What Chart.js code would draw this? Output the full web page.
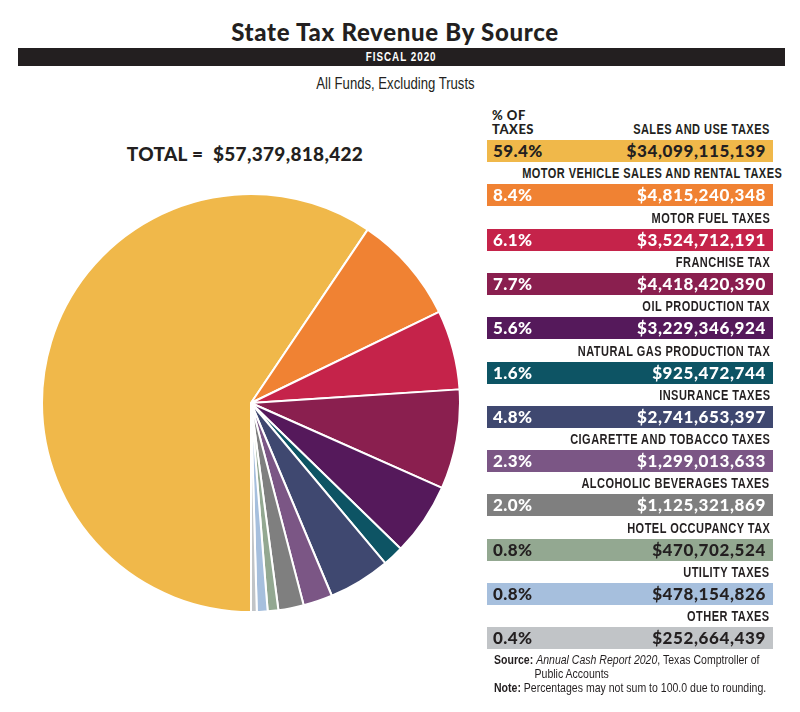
<!DOCTYPE html>
<html>
<head>
<meta charset="utf-8">
<script src="https://cdn.jsdelivr.net/npm/chart.js@4"></script>
<style>
  body { margin: 0; width: 800px; height: 712px; background: #fff; position: relative; overflow: hidden;
         font-family: "Liberation Sans", sans-serif; color: #231f20; }
  .abs { position: absolute; white-space: nowrap; }
  .sq { display: inline-block; transform: scaleX(0.82); }
  #title { left: 0; width: 790px; top: 17px; text-align: center; font: 900 24px Lato, sans-serif; letter-spacing: 0.7px; }
  #band { left: 18px; width: 767px; top: 48px; height: 18px; background: #231f20; color: #fff; text-align: center;
          font: bold 12px "Liberation Sans", sans-serif; line-height: 18px; letter-spacing: 1.2px; }
  #sub { left: 0; width: 790px; top: 75px; text-align: center; font-size: 16px; }
  #total { left: 40px; width: 410px; top: 142px; text-align: center; font: 900 19px Lato, sans-serif; letter-spacing: 0.3px; }
  #pieBox { left: 41px; top: 193px; width: 420px; height: 420px; }
  #pctHead { left: 492px; top: 108px; font: 900 13px Lato, sans-serif; line-height: 14px; letter-spacing: 0.5px; }
  .lab { left: 440px; width: 330px; text-align: right; font: bold 14.5px "Liberation Sans", sans-serif; letter-spacing: 0.6px; }
  .lab .sq { transform-origin: right center; transform: scaleX(0.76); }
  .bar { left: 487px; width: 286px; height: 22px; font: 900 17px Lato, sans-serif; line-height: 22px; }
  .bar .p { position: absolute; left: 6px; letter-spacing: 0.4px; }
  .bar .v { position: absolute; right: 7px; letter-spacing: 0.6px; }
  #notes { left: 494px; top: 653px; font-size: 13px; line-height: 14px; }
  #notes .sq { transform-origin: left center; transform: scaleX(0.81); }
</style>
</head>
<body>
<div class="abs" id="title">State Tax Revenue By Source</div>
<div class="abs" id="band"><span class="sq">FISCAL 2020</span></div>
<div class="abs" id="sub"><span class="sq">All Funds, Excluding Trusts</span></div>
<div class="abs" id="total">TOTAL =&nbsp; $57,379,818,422</div>
<div class="abs" id="pieBox"><canvas id="pie"></canvas></div>
<div class="abs" id="pctHead">% OF<br>TAXES</div>
<div id="legend"></div>
<div class="abs" id="notes">
  <span class="sq"><b>Source:</b> <i>Annual Cash Report 2020</i>, Texas Comptroller of</span><br>
  <span class="sq" style="padding-left:50px">Public Accounts</span><br>
  <span class="sq"><b>Note:</b> Percentages may not sum to 100.0 due to rounding.</span>
</div>
<script>
// categories, values and colours
const sources = [ "SALES AND USE TAXES", "MOTOR VEHICLE SALES AND RENTAL TAXES", "MOTOR FUEL TAXES",
    "FRANCHISE TAX", "OIL PRODUCTION TAX", "NATURAL GAS PRODUCTION TAX", "INSURANCE TAXES",
    "CIGARETTE AND TOBACCO TAXES", "ALCOHOLIC BEVERAGES TAXES", "HOTEL OCCUPANCY TAX",
    "UTILITY TAXES", "OTHER TAXES" ];
const revenue = [ 34099115139, 4815240348, 3524712191, 4418420390, 3229346924, 925472744,
    2741653397, 1299013633, 1125321869, 470702524, 478154826, 252664439 ];
const pct_labels = [ "59.4%", "8.4%", "6.1%", "7.7%", "5.6%", "1.6%", "4.8%", "2.3%", "2.0%", "0.8%", "0.8%", "0.4%" ];
const colors = [ '#F0B84A', '#F08233', '#C5234A', '#8A1F4F', '#55195B', '#0D5464', '#3F4870',
    '#7B5685', '#7F7F7F', '#93A891', '#A6BFDD', '#C1C4C7' ];
const dark_text = [ true, false, false, false, false, false, false, false, false, true, true, true ];

// legend rows
const legend = document.getElementById( "legend" );
sources.forEach( ( name, i ) => {
    const top = 140 + i * 44.3;
    const lab = document.createElement( "div" );
    lab.className = "abs lab";
    lab.style.top = ( top - 19 ) + "px";
    lab.innerHTML = '<span class="sq">' + name + '</span>';
    legend.appendChild( lab );
    const bar = document.createElement( "div" );
    bar.className = "abs bar";
    bar.style.top = top + "px";
    bar.style.background = colors[ i ];
    bar.style.color = dark_text[ i ] ? '#231f20' : '#fff';
    bar.innerHTML = '<span class="p">' + pct_labels[ i ] + '</span><span class="v">$' +
        revenue[ i ].toLocaleString( 'en-US' ) + '</span>';
    legend.appendChild( bar );
} );

// pie
new Chart( document.getElementById( "pie" ),
{
    type: 'pie',
    data: {
        labels: sources,
        datasets: [ {
            data: revenue,
            backgroundColor: colors,
            borderColor: '#fff',
            borderWidth: 2
        } ]
    },
    options: {
        responsive: true,
        maintainAspectRatio: false,
        rotation: 180,
        animation: false,
        layout: { padding: 0 },
        plugins: {
            legend: { display: false },
            tooltip: { enabled: false }
        }
    }
} );
</script>
</body>
</html>
